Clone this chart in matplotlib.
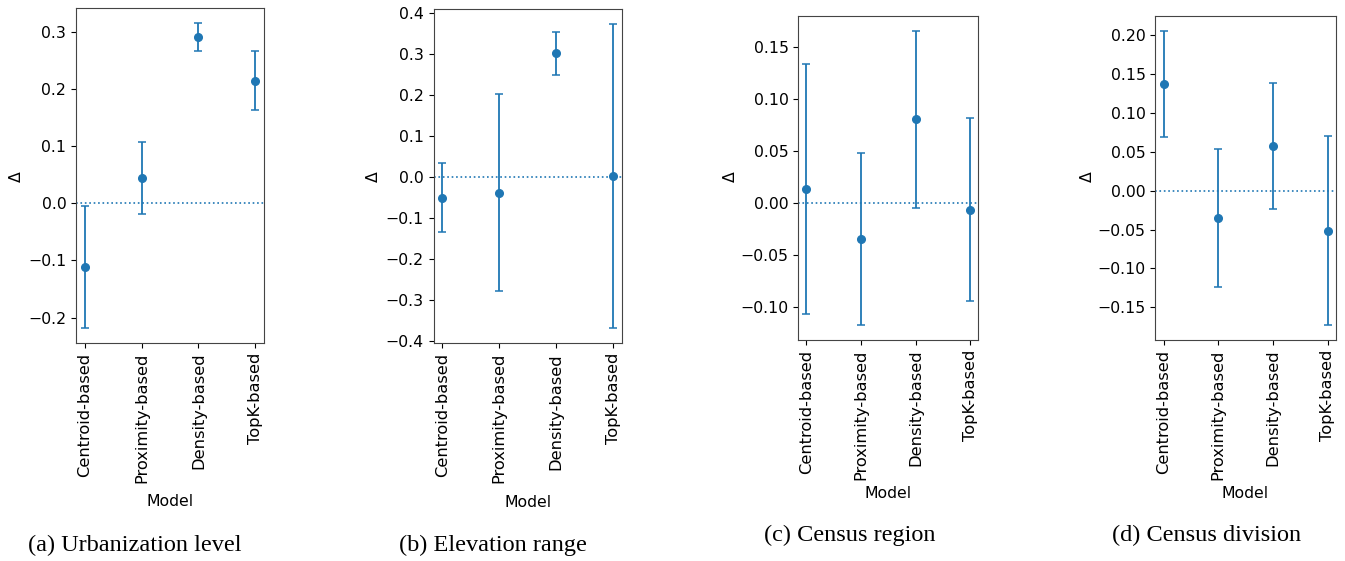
import matplotlib
matplotlib.use("Agg")
import matplotlib.pyplot as plt
import numpy as np

models = ["Centroid-based", "Proximity-based", "Density-based", "TopK-based"]

urban_mean = [-0.111, 0.0445, 0.292, 0.2155]
urban_err = [0.107, 0.063, 0.024, 0.0525]

elev_mean = [-0.051, -0.039, 0.301, 0.0016]
elev_err = [0.084, 0.240, 0.052, 0.370]

region_mean = [0.0135, -0.0347, 0.0803, -0.0062]
region_err = [0.120, 0.0826, 0.0852, 0.0880]

division_mean = [0.1375, -0.0348, 0.0571, -0.0515]
division_err = [0.0680, 0.0884, 0.0806, 0.1215]

captions = ["(a) Urbanization level", "(b) Elevation range",
            "(c) Census region", "(d) Census division"]

W, H = 1345, 561
fig = plt.figure(figsize=(W / 100, H / 100), dpi=100)

# pixel boxes: left, right, top, bottom
boxes = [(76, 264, 8, 343), (433.7, 621.7, 9.3, 343.3),
         (798.3, 978.3, 16, 340), (1155.3, 1335.7, 16, 340)]
caption_pos = [(135, 545), (493, 545), (850, 535), (1207, 535)]
ylabel_x = [16, 373, 730, 1087]
xlabel_pad = [8, 8, 4.5, 4.5]

datasets = [(urban_mean, urban_err), (elev_mean, elev_err),
            (region_mean, region_err), (division_mean, division_err)]

for i, ((l, r, t, b), (m, e)) in enumerate(zip(boxes, datasets)):
    ax = fig.add_axes([l / W, 1 - b / H, (r - l) / W, (b - t) / H])
    x = np.arange(len(models))
    ax.errorbar(x, m, yerr=e, fmt='o', color='#1f77b4', markersize=5.5,
                capsize=3, elinewidth=1.3, capthick=1.1)
    ax.axhline(0, linestyle=':', color='#1f77b4', linewidth=1.2)
    ax.set_xticks(x)
    ax.set_xticklabels(models, rotation=90, fontsize=11.7)
    ax.tick_params(axis='y', labelsize=11.3)
    ax.set_xlabel("Model", fontsize=11.3, labelpad=xlabel_pad[i])
    ax.set_ylabel("")
    fig.text(ylabel_x[i] / W, 1 - 177 / H, "Δ", rotation=90, fontsize=11.3,
             ha='center', va='center')
    for s in ax.spines.values():
        s.set_color('#444444')
    cx, cy = caption_pos[i]
    fig.text(cx / W, 1 - cy / H, captions[i], ha='center', va='center',
             fontsize=17.5, family='Liberation Serif')

fig.savefig("out.png", dpi=100)
